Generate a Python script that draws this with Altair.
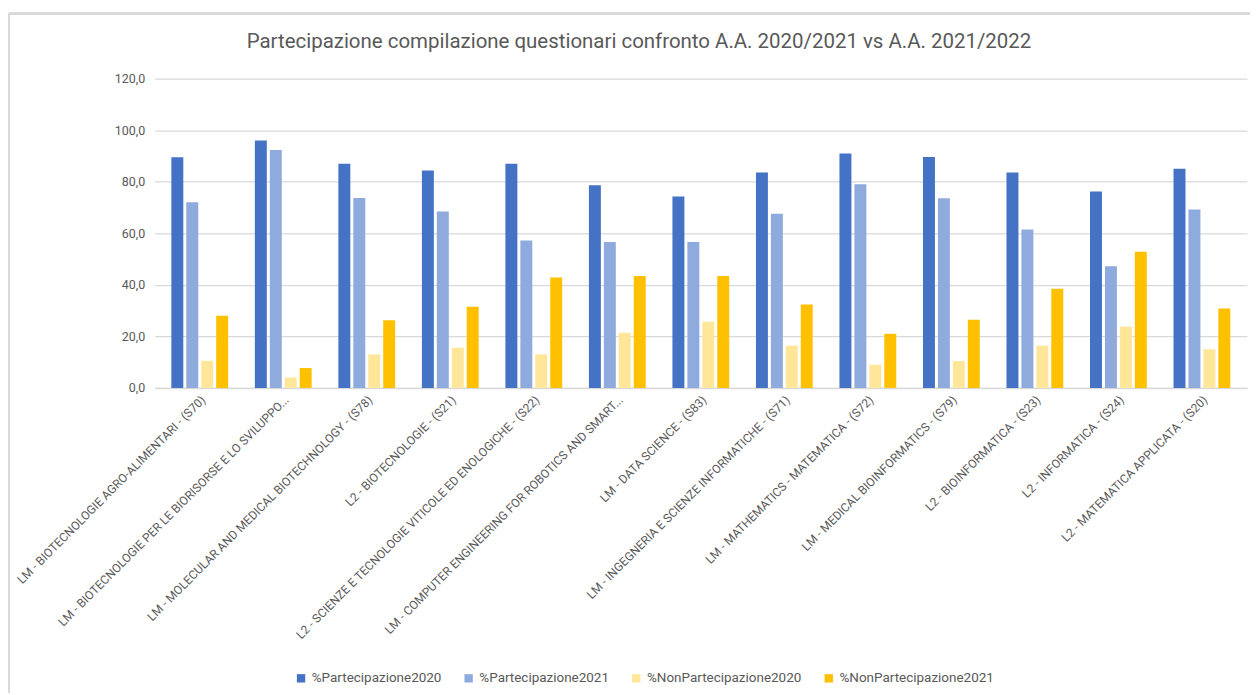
import altair as alt
import pandas as pd

categories = [
    "LM - BIOTECNOLOGIE AGRO-ALIMENTARI - (S70)",
    "LM - BIOTECNOLOGIE PER LE BIORISORSE E LO SVILUPPO...",
    "LM - MOLECULAR AND MEDICAL BIOTECHNOLOGY - (S78)",
    "L2 - BIOTECNOLOGIE - (S21)",
    "L2 - SCIENZE E TECNOLOGIE VITICOLE ED ENOLOGICHE - (S22)",
    "LM - COMPUTER ENGINEERING FOR ROBOTICS AND SMART...",
    "LM - DATA SCIENCE - (S83)",
    "LM - INGEGNERIA E SCIENZE INFORMATICHE - (S71)",
    "LM - MATHEMATICS - MATEMATICA - (S72)",
    "LM - MEDICAL BIOINFORMATICS - (S79)",
    "L2 - BIOINFORMATICA - (S23)",
    "L2 - INFORMATICA - (S24)",
    "L2 - MATEMATICA APPLICATA - (S20)",
]
series = ["%Partecipazione2020", "%Partecipazione2021",
          "%NonPartecipazione2020", "%NonPartecipazione2021"]
part2020 = [89.5, 96.0, 87.0, 84.4, 87.0, 78.6, 74.3, 83.6, 91.0, 89.6, 83.6, 76.2, 85.0]
part2021 = [72.0, 92.3, 73.7, 68.5, 57.2, 56.6, 56.6, 67.6, 79.0, 73.6, 61.5, 47.2, 69.2]
nonpart2020 = [10.5, 4.0, 13.0, 15.6, 13.0, 21.4, 25.7, 16.4, 9.0, 10.4, 16.4, 23.8, 15.0]
nonpart2021 = [28.0, 7.7, 26.3, 31.5, 42.8, 43.4, 43.4, 32.4, 21.0, 26.4, 38.5, 52.8, 30.8]
colors = ["#4472C4", "#8FAADC", "#FFE699", "#FFC000"]

rows = []
for s, vals in zip(series, [part2020, part2021, nonpart2020, nonpart2021]):
    for c, v in zip(categories, vals):
        rows.append({"corso": c, "serie": s, "valore": v})
df = pd.DataFrame(rows)

font = "Roboto"
grey = "#595959"
W, H = 1095, 310

bars = alt.Chart(df).mark_bar().encode(
    x=alt.X("corso:N", sort=categories, title=None,
            scale=alt.Scale(paddingInner=0.32, paddingOuter=0.2),
            axis=alt.Axis(labelAngle=-45, labelFontSize=12, labelColor=grey,
                          labelFont=font, ticks=False, domainColor="#d9d9d9",
                          domainWidth=1.5, labelLimit=400, labelPadding=6)),
    xOffset=alt.XOffset("serie:N", sort=series,
                        scale=alt.Scale(paddingInner=0.2)),
    y=alt.Y("valore:Q", title=None,
            scale=alt.Scale(domain=[0, 120]),
            axis=alt.Axis(values=[0, 20, 40, 60, 80, 100, 120],
                          labelExpr="replace(format(datum.value, '.1f'), '.', ',')",
                          labelFontSize=12.5, labelColor=grey, labelFont=font,
                          ticks=False, domain=False, gridColor="#d9d9d9",
                          gridWidth=1.2, labelPadding=10)),
    color=alt.Color("serie:N", sort=series,
                    scale=alt.Scale(domain=series, range=colors),
                    legend=alt.Legend(title=None, orient="none", legendX=140,
                                      legendY=594, direction="horizontal",
                                      columns=4, symbolType="square",
                                      symbolSize=70, symbolStrokeWidth=0,
                                      labelFontSize=13.5, labelColor=grey,
                                      labelFont=font, columnPadding=20)),
)

frame_v = alt.Chart(df).mark_rule(color="#d9d9d9", strokeWidth=2).encode(
    x=alt.value(-146), y=alt.value(-65), y2=alt.value(620))
frame_h = alt.Chart(df).mark_rule(color="#d9d9d9", strokeWidth=2).encode(
    x=alt.value(-146), x2=alt.value(1105), y=alt.value(-65))

chart = alt.layer(bars, frame_v, frame_h).properties(
    width=W,
    height=H,
    title=alt.TitleParams("Partecipazione compilazione questionari confronto A.A. 2020/2021 vs A.A. 2021/2022",
                          fontSize=20.5, font=font, fontWeight="normal",
                          color=grey, offset=-40, anchor="middle", frame="bounds",
                          dx=6),
    autosize=alt.AutoSizeParams(type="none"),
    padding={"left": 147, "top": 70, "right": 3, "bottom": 305},
).configure_view(stroke=None)

chart.save("out.html", embed_options={"renderer": "svg", "actions": False})
